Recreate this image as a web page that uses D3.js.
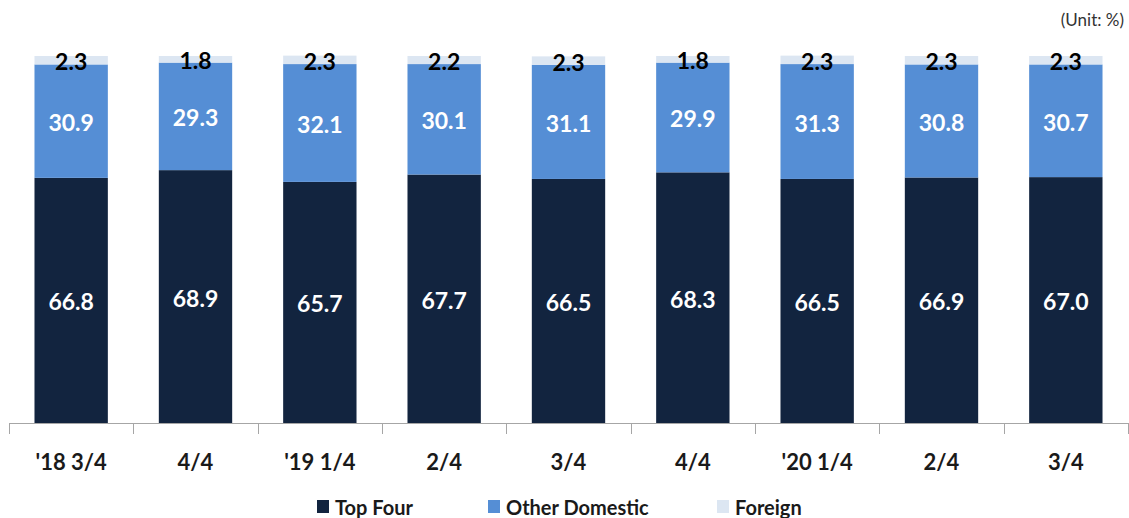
<!DOCTYPE html>
<html>
<head>
<meta charset="utf-8">
<script src="https://cdn.jsdelivr.net/npm/d3@7"></script>
<style>
  html, body { margin: 0; padding: 0; background: #fff; }
  svg { display: block; font-family: Lato, "Open Sans", "Noto Sans", sans-serif; }
</style>
</head>
<body>
<svg id="chart" width="1129" height="518"></svg>
<script>
// Market share by bank group, quarterly (%)
const quarters = ["'18 3/4", "4/4", "'19 1/4", "2/4", "3/4", "4/4", "'20 1/4", "2/4", "3/4"];
const topFour = [66.8, 68.9, 65.7, 67.7, 66.5, 68.3, 66.5, 66.9, 67.0];
const otherDomestic = [30.9, 29.3, 32.1, 30.1, 31.1, 29.9, 31.3, 30.8, 30.7];
const foreign = [2.3, 1.8, 2.3, 2.2, 2.3, 1.8, 2.3, 2.3, 2.3];
const seriesNames = ["Top Four", "Other Domestic", "Foreign"];
const seriesColors = ["#12243f", "#558ed5", "#dce6f2"];
const labelColors = ["#ffffff", "#ffffff", "#000000"];

const rows = quarters.map((q, i) => ({
  key: i,
  quarter: q,
  "Top Four": topFour[i],
  "Other Domestic": otherDomestic[i],
  "Foreign": foreign[i]
}));

const svg = d3.select("#chart");
const margin = { left: 9, right: 1, top: 56, bottom: 95 };
const width = 1129, height = 518;
const y0 = height - margin.bottom;

const x = d3.scaleBand()
  .domain(rows.map(d => d.key))
  .range([margin.left, width - margin.right])
  .paddingInner(0.41)
  .paddingOuter(0.205);

const y = d3.scaleLinear().domain([0, 100]).range([y0, margin.top]);

const stack = d3.stack().keys(seriesNames);
const layers = stack(rows);

const g = svg.append("g");

layers.forEach((layer, li) => {
  const lg = g.append("g").attr("fill", seriesColors[li]);
  lg.selectAll("rect")
    .data(layer)
    .join("rect")
    .attr("x", d => x(d.data.key))
    .attr("width", x.bandwidth())
    .attr("y", d => y(d[1]))
    .attr("height", d => y(d[0]) - y(d[1]));
});

// value labels
layers.forEach((layer, li) => {
  g.append("g").selectAll("text")
    .data(layer)
    .join("text")
    .attr("x", d => x(d.data.key) + x.bandwidth() / 2)
    .attr("y", d => (y(d[0]) + y(d[1])) / 2 + 1)
    .attr("text-anchor", "middle")
    .attr("dominant-baseline", "central")
    .attr("fill", labelColors[li])
    .attr("font-size", 23)
    .attr("font-weight", "bold")
    .text(d => d.data[seriesNames[li]].toFixed(1));
});

// category axis with ticks between bands
const axisG = svg.append("g");
axisG.append("line")
  .attr("x1", margin.left).attr("x2", width - margin.right)
  .attr("y1", y0 + 0.5).attr("y2", y0 + 0.5)
  .attr("stroke", "#a6a6a6").attr("stroke-width", 1);

const step = x.step();
const bounds = d3.range(quarters.length + 1).map(i => margin.left + i * step);
axisG.selectAll("line.tick")
  .data(bounds)
  .join("line")
  .attr("class", "tick")
  .attr("x1", d => Math.round(d) + 0.5).attr("x2", d => Math.round(d) + 0.5)
  .attr("y1", y0).attr("y2", y0 + 11)
  .attr("stroke", "#a6a6a6");

axisG.selectAll("text")
  .data(rows)
  .join("text")
  .attr("x", d => x(d.key) + x.bandwidth() / 2)
  .attr("y", 461)
  .attr("text-anchor", "middle")
  .attr("dominant-baseline", "central")
  .attr("font-size", 22)
  .attr("font-weight", "bold")
  .attr("fill", "#1a1a1a")
  .text(d => d.quarter);

// legend
const legendX = [317, 488, 717];
const legend = svg.append("g");
seriesNames.forEach((name, i) => {
  legend.append("rect")
    .attr("x", legendX[i]).attr("y", 500)
    .attr("width", 12).attr("height", 13)
    .attr("fill", seriesColors[i]);
  legend.append("text")
    .attr("x", legendX[i] + 18).attr("y", 507)
    .attr("dominant-baseline", "central")
    .attr("font-size", 20)
    .attr("font-weight", "bold")
    .attr("fill", "#1a1a1a")
    .text(name);
});

// unit note
svg.append("text")
  .attr("x", 1124).attr("y", 19)
  .attr("text-anchor", "end")
  .attr("dominant-baseline", "central")
  .attr("font-size", 17)
  .attr("fill", "#333")
  .text("(Unit: %)");
</script>
</body>
</html>
